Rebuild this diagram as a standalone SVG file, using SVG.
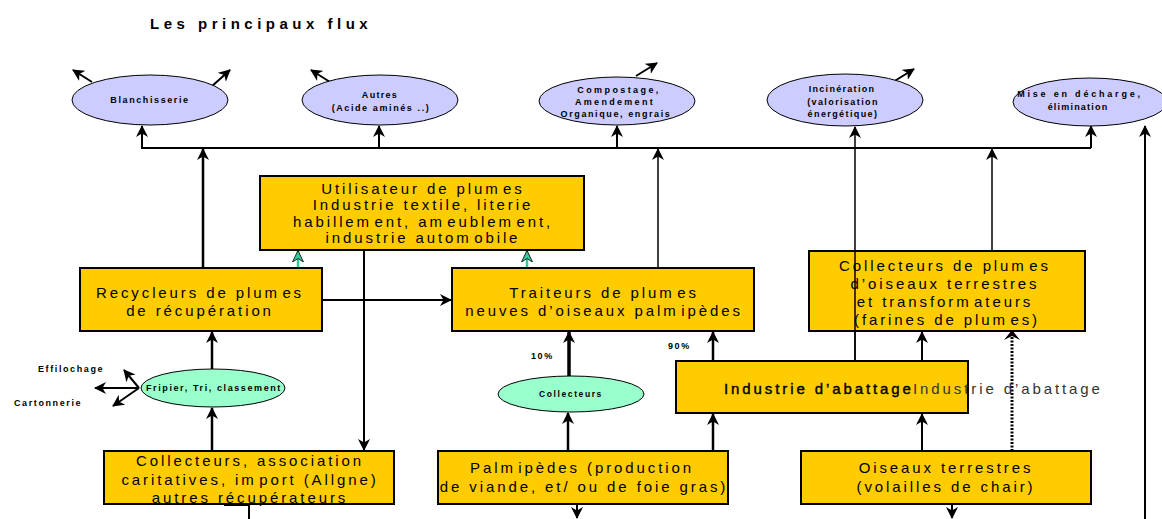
<svg xmlns="http://www.w3.org/2000/svg" width="1162" height="519" viewBox="0 0 1162 519">
<style>
.box{fill:#FFCC00;stroke:#000;stroke-width:2}
.ell{fill:#CCCCFF;stroke:#000;stroke-width:1}
.gell{fill:#99FFCC;stroke:#000;stroke-width:1}
.bt{font-family:"Liberation Sans",Arial,sans-serif;font-size:15px;letter-spacing:2.9px;text-anchor:middle;fill:#000}
.et{font-family:"Liberation Sans",Arial,sans-serif;font-size:9px;font-weight:bold;letter-spacing:1.6px;text-anchor:middle;fill:#000}
.lt{font-family:"Liberation Sans",Arial,sans-serif;font-size:9px;font-weight:bold;letter-spacing:1.6px;fill:#000}
.ln{stroke:#000;fill:none;stroke-width:2}
.thin{stroke-width:1.5}
.thick{stroke-width:2.5}
.teal{stroke:#33CC99;stroke-width:2.5;fill:none}
</style>
<defs>
<marker id="ah" viewBox="0 0 12 12" markerWidth="12" markerHeight="12" refX="11" refY="6" orient="auto" markerUnits="userSpaceOnUse">
<path d="M0,0 L12,6 L0,12 L3.5,6 z" fill="#000"/>
</marker>
<marker id="ahT" viewBox="0 0 12 12" markerWidth="12" markerHeight="12" refX="11" refY="6" orient="auto" markerUnits="userSpaceOnUse">
<path d="M0,0.5 L11.5,6 L0,11.5 L3.5,6 z" fill="#33CC99" stroke="#222" stroke-width="1"/>
</marker>
</defs>
<rect width="1162" height="519" fill="#fff"/>

<text x="150" y="29" font-family="'Liberation Sans',Arial,sans-serif" font-size="15" font-weight="bold" letter-spacing="4.5">Les principaux flux</text>

<g id="connectors">
<path class="ln" d="M141,148 H1091"/>
<path class="ln" d="M142,148 V126" marker-end="url(#ah)"/>
<path class="ln" d="M379,148 V126" marker-end="url(#ah)"/>
<path class="ln" d="M617,148 V126" marker-end="url(#ah)"/>
<path class="ln" d="M1091,148 V126" marker-end="url(#ah)"/>
<path class="ln thin" d="M855,361 V127" marker-end="url(#ah)"/>
<path class="ln" d="M1145,519 V126" marker-end="url(#ah)"/>
<path class="ln thick" d="M203,268 V149" marker-end="url(#ah)"/>
<path class="ln thin" d="M658,268 V149" marker-end="url(#ah)"/>
<path class="ln thin" d="M992,251 V149" marker-end="url(#ah)"/>
<path class="ln" d="M92,82 L73,70" marker-end="url(#ah)"/>
<path class="ln" d="M211,87 L230,70" marker-end="url(#ah)"/>
<path class="ln" d="M330,82 L311,70" marker-end="url(#ah)"/>
<path class="ln" d="M636,76 L657,63" marker-end="url(#ah)"/>
<path class="ln" d="M893,82 L914,69" marker-end="url(#ah)"/>
<path class="ln" d="M364,251 V450" marker-end="url(#ah)"/>
<path class="ln" d="M320,300 H451" marker-end="url(#ah)"/>
<path class="teal" d="M298,268 V251" marker-end="url(#ahT)"/>
<path class="teal" d="M527,268 V251" marker-end="url(#ahT)"/>
<path class="ln thick" d="M212,369 V332" marker-end="url(#ah)"/>
<path class="ln thick" d="M212,451 V408" marker-end="url(#ah)"/>
<path class="ln" d="M139,388 L124,370" marker-end="url(#ah)"/>
<path class="ln" d="M139,388 L95,388" marker-end="url(#ah)"/>
<path class="ln" d="M139,388 L113,406" marker-end="url(#ah)"/>
<path class="ln" style="stroke-width:3.5" d="M569,376 V332" marker-end="url(#ah)"/>
<path class="ln thick" d="M568,451 V413" marker-end="url(#ah)"/>
<path class="ln thick" d="M713,361 V332" marker-end="url(#ah)"/>
<path class="ln thick" d="M713,451 V414" marker-end="url(#ah)"/>
<path class="ln" d="M922,361 V332" marker-end="url(#ah)"/>
<path class="ln" d="M922,451 V414" marker-end="url(#ah)"/>
<path class="ln" style="stroke-width:3;stroke-dasharray:2,1.5" d="M1012,451 V334"/>
<path d="M1004,340 L1012,330 L1020,340 L1012,336 z" fill="#000"/>
<path class="ln" d="M577,504 V518" marker-end="url(#ah)"/>
<path class="ln" d="M952,504 V518" marker-end="url(#ah)"/>
<path class="ln" d="M249,504 V519"/>
<path class="ln" d="M224,505 H248"/>
</g>

<g id="blanchisserie">
<ellipse class="ell" cx="150" cy="100" rx="78" ry="25"/>
<text class="et" x="150" y="103">Blanchisserie</text>
</g>
<g id="autres">
<ellipse class="ell" cx="380" cy="100" rx="78" ry="25"/>
<text class="et" x="380" y="98" style="letter-spacing:1.3px">Autres</text>
<text class="et" x="381" y="111">(Acide aminés ..)</text>
</g>
<g id="compostage">
<ellipse class="ell" cx="617" cy="101" rx="78" ry="24"/>
<text class="et" x="619" y="93" style="letter-spacing:2.4px">Compostage,</text>
<text class="et" x="615" y="105" style="letter-spacing:2.3px">Amendement</text>
<text class="et" x="616" y="117">Organique, engrais</text>
</g>
<g id="incineration">
<ellipse class="ell" cx="845" cy="100" rx="78" ry="26"/>
<text class="et" x="842" y="92" style="letter-spacing:1.3px">Incinération</text>
<text class="et" x="843" y="105" style="letter-spacing:1.4px">(valorisation</text>
<text class="et" x="843" y="117" style="letter-spacing:1.4px">énergétique)</text>
</g>
<g id="decharge">
<ellipse class="ell" cx="1090" cy="102" rx="77" ry="24"/>
<text class="et" x="1080" y="97" style="letter-spacing:2.8px">Mise en décharge,</text>
<text class="et" x="1078" y="110" style="letter-spacing:1.2px">élimination</text>
</g>

<g id="utilisateur">
<rect class="box" x="260" y="176" width="324" height="74"/>
<text class="bt" x="423" y="194">Utilisateur de plum<tspan dx="2.5">es</tspan></text>
<text class="bt" x="423" y="210">Industrie textile, literie</text>
<text class="bt" x="423" y="227">habillem<tspan dx="2.5">ent, am</tspan><tspan dx="2.5">eublem</tspan><tspan dx="2.5">ent,</tspan></text>
<text class="bt" x="423" y="243">industrie autom<tspan dx="2.5">obile</tspan></text>
</g>
<g id="recycleurs">
<rect class="box" x="80" y="268" width="242" height="63"/>
<text class="bt" x="200" y="298">Recycleurs de plum<tspan dx="2.5">es</tspan></text>
<text class="bt" x="200" y="316">de récupération</text>
</g>
<g id="traiteurs">
<rect class="box" x="452" y="268" width="302" height="63"/>
<text class="bt" x="604" y="298">Traiteurs de plum<tspan dx="2.5">es</tspan></text>
<text class="bt" x="604" y="316">neuves d’oiseaux palm<tspan dx="2.5">ipèdes</tspan></text>
</g>
<g id="collecteurs-plumes">
<rect class="box" x="809" y="251" width="276" height="80"/>
<text class="bt" x="945" y="271">Collecteurs de plum<tspan dx="2.5">es</tspan></text>
<text class="bt" x="945" y="289">d’oiseaux terrestres</text>
<text class="bt" x="945" y="307">et transform<tspan dx="2.5">ateurs</tspan></text>
<text class="bt" x="947" y="325">(farines de plum<tspan dx="2.5">es)</tspan></text>
</g>
<path class="ln thin" d="M855,251 V361"/>

<g id="fripier">
<ellipse class="gell" cx="213" cy="388" rx="72" ry="19"/>
<text class="et" x="214" y="391">Fripier, Tri, classement</text>
</g>
<text class="lt" x="38" y="372">Effilochage</text>
<text class="lt" x="14" y="406">Cartonnerie</text>

<g id="collecteurs-vert">
<ellipse class="gell" cx="571" cy="394" rx="73" ry="18"/>
<text class="et" x="571" y="397" style="font-size:8.5px">Collecteurs</text>
</g>
<text class="lt" x="531" y="359">10%</text>
<text class="lt" x="668" y="349">90%</text>

<g id="abattage">
<rect class="box" x="676" y="361" width="292" height="52"/>
<text x="724" y="394" font-family="'Liberation Sans',Arial,sans-serif" font-size="15" letter-spacing="2.9" stroke="#000" stroke-width="0.4">Industrie d’abattage</text>
<text x="913" y="394" font-family="'Liberation Sans',Arial,sans-serif" font-size="15" letter-spacing="2.9" fill="#333">Industrie d’abattage</text>
</g>

<g id="collecteurs-assoc">
<rect class="box" x="104" y="451" width="290" height="53"/>
<text class="bt" x="250" y="466">Collecteurs, association</text>
<text class="bt" x="250" y="485">caritatives, im<tspan dx="2.5">port (Allgne)</tspan></text>
<text class="bt" x="250" y="503">autres récupérateurs</text>
</g>
<g id="palmipedes">
<rect class="box" x="438" y="451" width="290" height="53"/>
<text class="bt" x="582" y="473">Palm<tspan dx="2.5">ipèdes (production</tspan></text>
<text class="bt" x="584" y="492">de viande, et/ ou de foie gras)</text>
</g>
<g id="oiseaux">
<rect class="box" x="801" y="451" width="290" height="53"/>
<text class="bt" x="946" y="473">Oiseaux terrestres</text>
<text class="bt" x="946" y="492">(volailles de chair)</text>
</g>
</svg>
